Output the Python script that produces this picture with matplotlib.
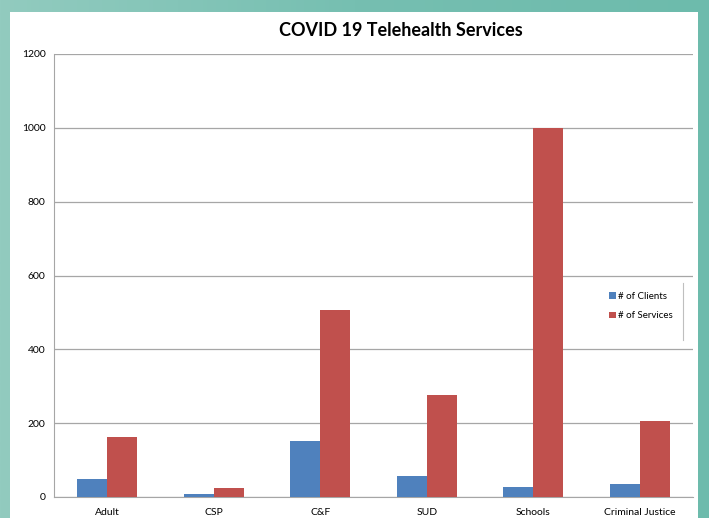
import matplotlib
matplotlib.use("Agg")
import matplotlib.pyplot as plt
import numpy as np
from matplotlib.patches import Rectangle
from matplotlib.colors import LinearSegmentedColormap

categories = ["Adult", "CSP", "C&F", "SUD", "Schools", "Criminal Justice"]
clients = [48, 9, 151, 56, 27, 34]
services = [163, 25, 507, 275, 1000, 205]
series_names = ["# of Clients", "# of Services"]
yticks = [0, 200, 400, 600, 800, 1000, 1200]

plt.rcParams['font.family'] = ['Lato', 'DejaVu Sans']

fig = plt.figure(figsize=(7.09, 5.18), dpi=100)

# teal gradient background
bg = fig.add_axes([0, 0, 1, 1])
grad = np.linspace(0, 1, 256).reshape(1, -1)
cmap = LinearSegmentedColormap.from_list("teal", ["#92cbbf", "#76bfb1", "#6dbbac"])
bg.imshow(grad, aspect='auto', cmap=cmap, extent=[0, 1, 0, 1])
bg.set_xlim(0, 1); bg.set_ylim(0, 1)
bg.axis('off')
bg.add_patch(Rectangle((10/709, 0), (698-10)/709, (518-12)/518, facecolor='white', edgecolor='none'))

ax = fig.add_axes([54/709, 1-497/518, (693-54)/709, (497-54)/518])
x = np.arange(len(categories))
w = 0.28
ax.bar(x - w/2, clients, w, color="#4f81bd", label=series_names[0], zorder=3)
ax.bar(x + w/2, services, w, color="#c0504d", label=series_names[1], zorder=3)

ax.set_xlim(-0.5, len(categories) - 0.5)
ax.set_ylim(0, 1200)
ax.set_yticks(yticks)
ax.set_yticklabels([str(t) for t in yticks], fontsize=7.5)
ax.set_xticks(x)
ax.set_xticklabels(categories, fontsize=7.5)
ax.tick_params(length=0, pad=6)
ax.tick_params(axis='x', pad=8)
ax.yaxis.grid(True, color="#a6a6a6", linewidth=0.9, zorder=0)
ax.set_axisbelow(True)
for s in ['top', 'right']:
    ax.spines[s].set_visible(False)
ax.spines['left'].set_color('#a6a6a6')
ax.spines['bottom'].set_color('#a6a6a6')
ax.set_facecolor('none')

leg = ax.legend(loc='center left', bbox_to_anchor=((600-54)/(693-54), (497-306)/443),
                frameon=False, fontsize=7, handlelength=0.7, handleheight=0.7,
                handletextpad=0.2, labelspacing=1.1)
ax.plot([(683-54)/(693-54)]*2, [(497-340)/443, (497-283)/443], transform=ax.transAxes,
        color="#bfbfbf", linewidth=0.8, clip_on=False)

fig.text(401/709, 1-31/518, "COVID 19 Telehealth Services", ha='center', va='center',
         fontsize=13, fontweight='bold')

fig.savefig("out.png", dpi=100)
